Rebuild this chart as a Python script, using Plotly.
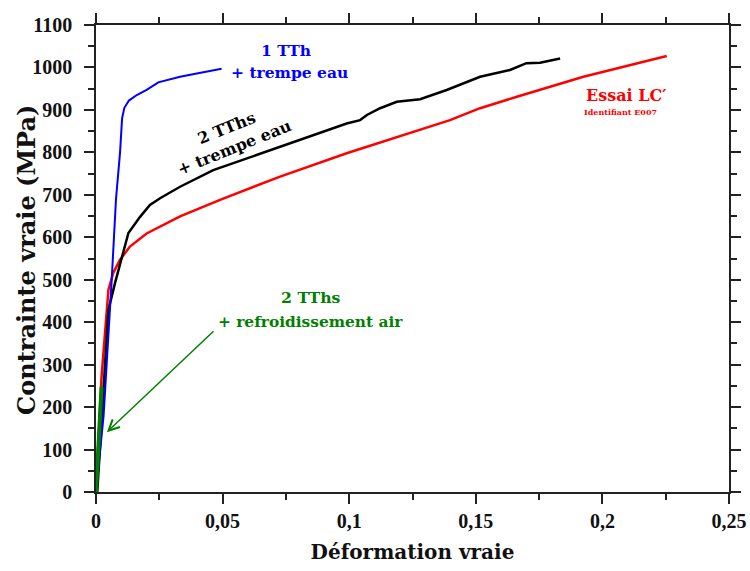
import plotly.graph_objects as go

# ---- data ----
blue_x = [0.0, 0.003, 0.0062, 0.0079, 0.0095, 0.0103, 0.0112, 0.013, 0.0161, 0.02, 0.0246, 0.0332, 0.0398, 0.0496]
blue_y = [0, 180, 500, 690, 800, 880, 905, 922, 935, 947, 965, 978, 986, 997]

black_x = [0.0005, 0.0025, 0.0049, 0.0075, 0.0095, 0.0128, 0.0174, 0.0213, 0.0253, 0.0332, 0.0463, 0.0595,
           0.0727, 0.0858, 0.099, 0.1043, 0.107, 0.1122, 0.1188, 0.128, 0.1385, 0.1517, 0.1635, 0.170,
           0.1754, 0.1833]
black_y = [0, 200, 429, 492, 539, 610, 648, 676, 692, 719, 758, 786,
           813, 840, 868, 876, 888, 904, 919, 925, 947, 978, 994, 1010,
           1011, 1021]

red_x = [0.0, 0.0022, 0.0049, 0.0068, 0.0095, 0.0134, 0.02, 0.0332, 0.049, 0.0727, 0.099, 0.1253,
         0.1398, 0.1517, 0.1662, 0.1925, 0.2254]
red_y = [0, 272, 476, 516, 547, 578, 609, 649, 688, 743, 798, 849,
         876, 904, 931, 978, 1027]

green_x = [0.0, 0.0009, 0.0022]
green_y = [0, 100, 248]

x_tickvals = [0, 0.05, 0.1, 0.15, 0.2, 0.25]
x_ticktext = ["0", "0,05", "0,1", "0,15", "0,2", "0,25"]
y_tickvals = list(range(0, 1101, 100))
y_ticktext = [str(v) for v in y_tickvals]

TFONT = "Liberation Serif"
AFONT = "DejaVu Serif"

fig = go.Figure()
fig.add_trace(go.Scatter(x=red_x, y=red_y, mode="lines", line=dict(color="#ff0000", width=2.5)))
fig.add_trace(go.Scatter(x=black_x, y=black_y, mode="lines", line=dict(color="#000000", width=2.5)))
fig.add_trace(go.Scatter(x=blue_x, y=blue_y, mode="lines", line=dict(color="#0000ff", width=2)))
fig.add_trace(go.Scatter(x=green_x, y=green_y, mode="lines", line=dict(color="#008000", width=4)))

axis_common = dict(
    showgrid=False, zeroline=False, showline=True, linecolor="#222", linewidth=1.5,
    mirror="allticks", ticks="outside", ticklen=10, tickwidth=1.5, tickcolor="#222",
    tickfont=dict(family=TFONT, size=20, color="#111"), automargin=False,
)

fig.update_xaxes(
    range=[0, 0.25], tickvals=x_tickvals, ticktext=["<b>%s</b>" % t for t in x_ticktext],
    minor=dict(dtick=0.025, ticks="outside", ticklen=6, tickwidth=1.5, tickcolor="#222"),
    title=dict(text="<b>Déformation vraie</b>", font=dict(family=AFONT, size=20, color="#111"), standoff=14),
    **axis_common,
)
fig.update_yaxes(
    range=[0, 1100], tickvals=y_tickvals, ticktext=["<b>%s</b>" % t for t in y_ticktext],
    minor=dict(dtick=50, ticks="outside", ticklen=6, tickwidth=1.5, tickcolor="#222"),
    ticklabelstandoff=8,
    **axis_common,
)

ann = []
# y-axis title placed as a rotated annotation (closer to the tick labels than a standoff allows)
ann.append(dict(xref="paper", yref="paper", x=-0.109, y=0.497, xanchor="center", yanchor="middle",
                text="<b>Contrainte vraie (MPa)</b>", textangle=-90, showarrow=False,
                font=dict(family=AFONT, size=24, color="#111")))
ann.append(dict(x=0.075, y=1041, text="<b>1 TTh</b>", showarrow=False, font=dict(family=AFONT, size=15.5, color="#0000ff")))
ann.append(dict(x=0.0766, y=987, text="<b>+ trempe eau</b>", showarrow=False, font=dict(family=AFONT, size=15.5, color="#0000ff")))
ann.append(dict(x=0.053, y=834, text="<b>2 TThs<br>+ trempe eau</b>", showarrow=False, textangle=-22,
                font=dict(family=AFONT, size=16, color="#000000")))
ann.append(dict(x=0.2093, y=933, text="<b>Essai LC′</b>", showarrow=False, font=dict(family=AFONT, size=16, color="#ff0000")))
ann.append(dict(x=0.2073, y=895, text="<b>Identifiant E007</b>", showarrow=False, font=dict(family=AFONT, size=8, color="#ff0000")))
ann.append(dict(x=0.0849, y=457, text="<b>2 TThs</b>", showarrow=False, font=dict(family=AFONT, size=15.7, color="#008000")))
ann.append(dict(x=0.0849, y=400, text="<b>+ refroidissement air</b>", showarrow=False, font=dict(family=AFONT, size=15.4, color="#008000")))
ann.append(dict(x=0.0043, y=141, ax=0.047, ay=382, xref="x", yref="y", axref="x", ayref="y",
                text="", showarrow=True, arrowhead=5, arrowsize=1.4, arrowwidth=1.5, arrowcolor="#008000"))
fig.update_layout(annotations=ann)

fig.update_layout(
    width=750, height=571,
    margin=dict(l=96, r=21, t=25, b=79),
    plot_bgcolor="white", paper_bgcolor="white",
    showlegend=False,
)

# remove the default page margin so the 750x571 figure fills the window exactly
fig.write_html("out.html", config={"displayModeBar": False},
               post_script="document.body.style.margin='0';document.body.style.overflow='hidden';")
